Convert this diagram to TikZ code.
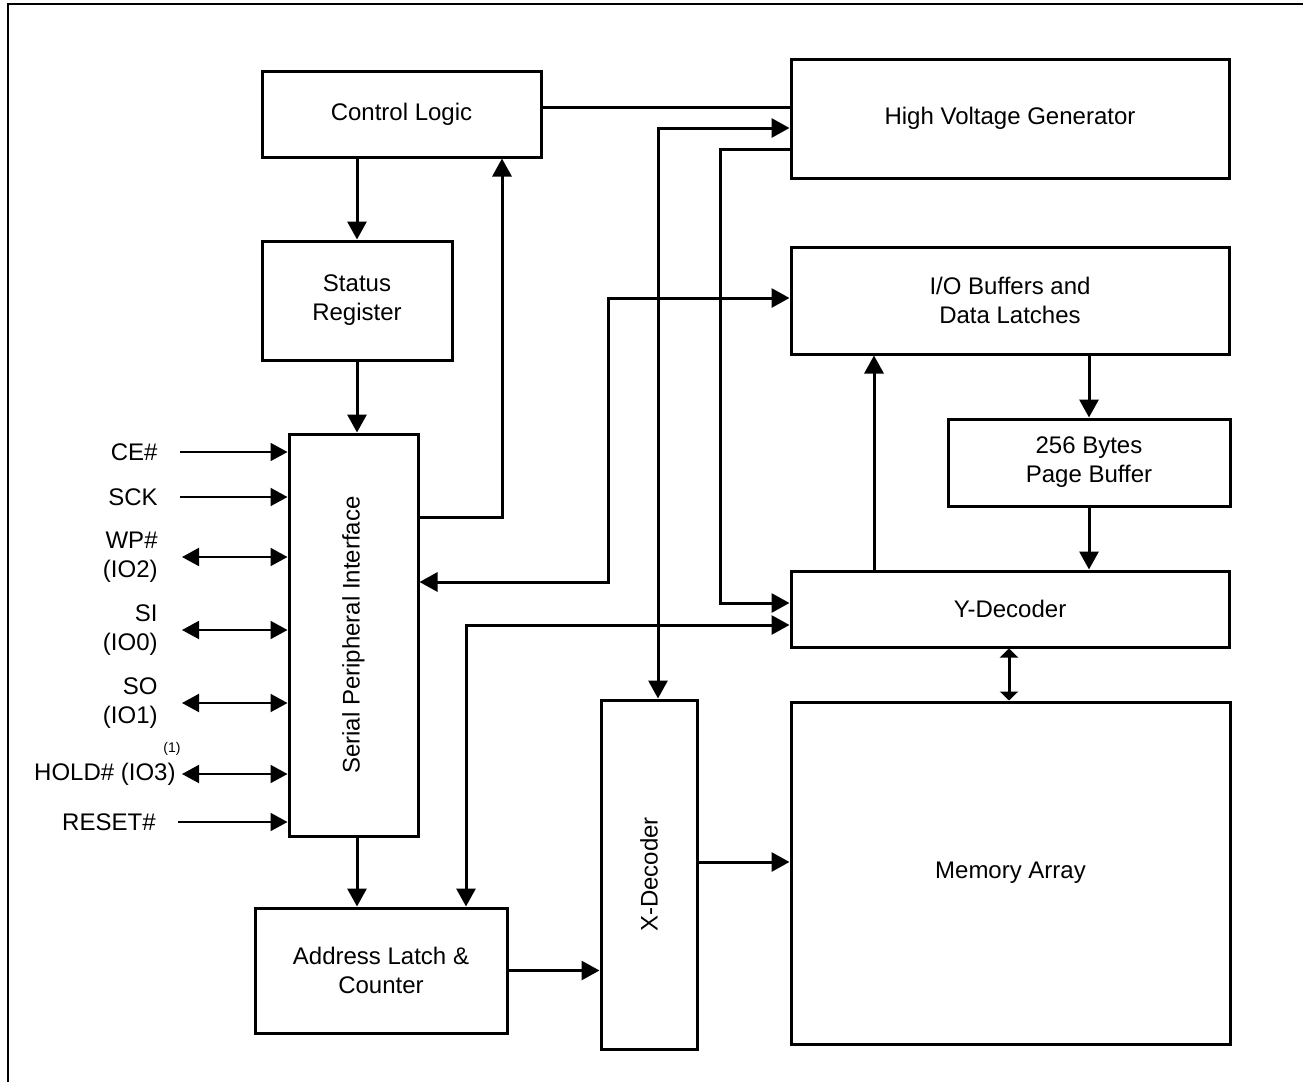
\documentclass[tikz,border=0pt]{standalone}
\usepackage{fontspec}
\setmainfont{Liberation Sans}
\usetikzlibrary{arrows.meta}

\tikzstyle{Block}=[rectangle,draw=black,line width=1.5pt,align=center,
  inner sep=0pt,font=\fontsize{12}{14.5}\selectfont]
\tikzstyle{BlockText}=[inner sep=0pt,font=\fontsize{12}{14.5}\selectfont]
\tikzstyle{PinLabel}=[anchor=east,align=right,inner sep=0pt,
  font=\fontsize{12}{14.5}\selectfont]
\tikzstyle{ArrowObject}=[black,line width=1.5pt,-{Triangle[length=9pt,width=9.5pt]}]
\tikzstyle{ArrowBoth}=[black,line width=1.5pt,
  {Triangle[length=9pt,width=9.5pt]}-{Triangle[length=9pt,width=9.5pt]}]
\tikzstyle{PinIn}=[black,line width=1pt,-{Triangle[length=8.5pt,width=9pt]}]
\tikzstyle{PinBoth}=[black,line width=1pt,
  {Triangle[length=8.5pt,width=9pt]}-{Triangle[length=8.5pt,width=9pt]}]

\begin{document}
\begin{tikzpicture}[x=0.5pt, y=-0.5pt, >=stealth]
		\useasboundingbox (0,0) rectangle (1303,1082);
		
		% Outer frame
		\draw[line width=1pt] (8,4) rectangle (1330,1110);
		
		% Left column blocks
		\draw(401.5,114) node[Block,minimum width=139.5pt,minimum height=43pt] (CtrlLogic) {Control Logic};
		\draw(357,300.5) node[Block,minimum width=95pt,minimum height=59.5pt] (StatusReg) {Status\\Register};
		\draw(353.5,635) node[Block,minimum width=64.5pt,minimum height=201pt] (SerialIF) {};
		\node[BlockText,rotate=90] (SerialIFText) at (SerialIF.center) {Serial Peripheral Interface};
		\draw(381,970.5) node[Block,minimum width=126pt,minimum height=62.5pt] (AddrLatch) {Address Latch \&\\Counter};
		\draw(649,874.5) node[Block,minimum width=48pt,minimum height=174.5pt] (XDecoder) {};
		\node[BlockText,rotate=90] (XDecoderText) at (XDecoder.center) {X-Decoder};
		
		% Right column blocks
		\draw(1010,118.5) node[Block,minimum width=219pt,minimum height=59.5pt] (HVGen) {High Voltage Generator};
		\draw(1010,300.5) node[Block,minimum width=219pt,minimum height=53.5pt] (IOBuf) {I/O Buffers and\\Data Latches};
		\draw(1089,462.5) node[Block,minimum width=141pt,minimum height=43.5pt] (PageBuf) {256 Bytes\\Page Buffer};
		\draw(1010,609) node[Block,minimum width=219pt,minimum height=38pt] (YDecoder) {Y-Decoder};
		\draw(1010.5,873) node[Block,minimum width=219.5pt,minimum height=171pt] (MemArray) {Memory Array};
		
		% Pin labels
		\draw(158,452) node[PinLabel] (PinCE) {CE\#};
		\draw(158,497) node[PinLabel] (PinSCK) {SCK};
		\draw(158,557) node[PinLabel] (PinWP) {WP\#\\(IO2)};
		\draw(158,630) node[PinLabel] (PinSI) {SI\\(IO0)};
		\draw(158,703) node[PinLabel] (PinSO) {SO\\(IO1)};
		\draw(176,774) node[PinLabel] (PinHOLD) {HOLD\# (IO3)};
		\draw(172,749) node[inner sep=0pt,font=\fontsize{7}{8}\selectfont] (NoteOne) {(1)};
		\draw(156,822) node[PinLabel] (PinRESET) {RESET\#};
		% Pin arrows
		\draw[PinIn] ([xshift=11pt]PinCE.east) -- (SerialIF.west |- PinCE.east);
		\draw[PinIn] ([xshift=11pt]PinSCK.east) -- (SerialIF.west |- PinSCK.east);
		\draw[PinBoth] ([xshift=12pt]PinWP.east) -- (SerialIF.west |- PinWP.east);
		\draw[PinBoth] ([xshift=12pt]PinSI.east) -- (SerialIF.west |- PinSI.east);
		\draw[PinBoth] ([xshift=12pt]PinSO.east) -- (SerialIF.west |- PinSO.east);
		\draw[PinBoth] ([xshift=3pt]PinHOLD.east) -- (SerialIF.west |- PinHOLD.east);
		\draw[PinIn] ([xshift=11pt]PinRESET.east) -- (SerialIF.west |- PinRESET.east);
		
		% Control path arrows
		\draw[ArrowObject] (StatusReg.north |- CtrlLogic.south) -- (StatusReg.north);
		\draw[ArrowObject] (StatusReg.south) -- (StatusReg.south |- SerialIF.north);
		\draw[ArrowObject] (SerialIF.east |- 0,517) -| (502,0 |- CtrlLogic.south);
		\draw[line width=1.5pt] (CtrlLogic.east |- 0,107) -- (HVGen.west |- 0,107);
		\draw[ArrowObject] (357,0 |- SerialIF.south) -- (357,0 |- AddrLatch.north);
		
		% High voltage and data path arrows
		\draw[ArrowBoth] (HVGen.west |- 0,128) -| (658,0 |- XDecoder.north);
		\draw[ArrowObject] (HVGen.west |- 0,149) -- (720,149) |- (YDecoder.west |- 0,603);
		\draw[ArrowBoth] (SerialIF.east |- 0,582) -- (608,582) |- (IOBuf.west |- 0,298);
		\draw[ArrowObject] (874,0 |- YDecoder.north) -- (874,0 |- IOBuf.south);
		\draw[ArrowObject] (PageBuf.north |- IOBuf.south) -- (PageBuf.north);
		\draw[ArrowObject] (PageBuf.south) -- (PageBuf.south |- YDecoder.north);
		\draw[ArrowBoth] (466,0 |- AddrLatch.north) |- (YDecoder.west |- 0,625);
		\draw[black,line width=1.5pt,{Triangle[length=4.5pt,width=9pt]}-{Triangle[length=4.5pt,width=9pt]}]
		  (1009,0 |- YDecoder.south) -- (1009,0 |- MemArray.north);
		\draw[ArrowObject] (AddrLatch.east) -- (AddrLatch.east -| XDecoder.west);
		\draw[ArrowObject] (XDecoder.east |- 0,862) -- (MemArray.west |- 0,862);
		
	\end{tikzpicture}
\end{document}
